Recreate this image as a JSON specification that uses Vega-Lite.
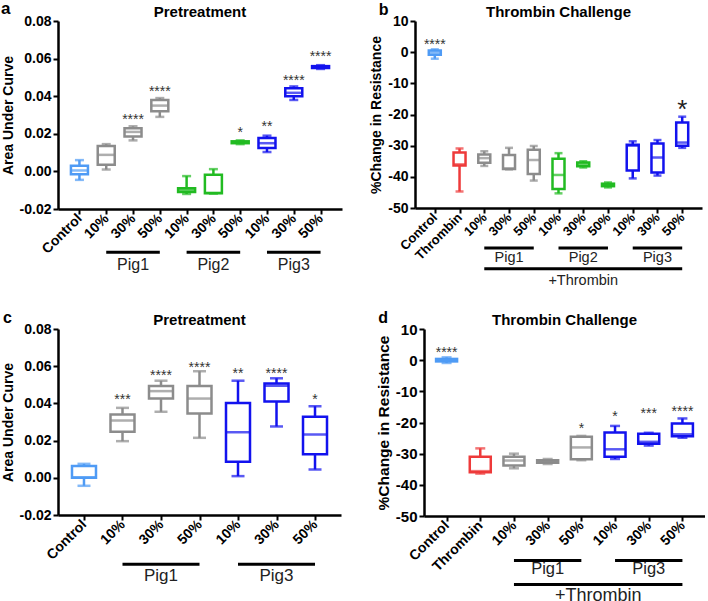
{
 "$schema": "https://vega.github.io/schema/vega-lite/v6.json",
 "background": "white",
 "padding": {"left": 1, "top": 0, "right": 0, "bottom": 0},
 "spacing": 22,
 "config": {
  "font": "Liberation Sans",
  "view": {"stroke": null},
  "axis": {"grid": false, "domainColor": "black", "domainWidth": 2.5, "tickColor": "black", "tickWidth": 2, "tickSize": 5, "labelColor": "black", "labelFontWeight": "bold", "labelFontSize": 14, "labelPadding": 2, "labelOverlap": false, "titleColor": "black", "titleFontWeight": "bold", "titleFontSize": 14, "titlePadding": 4},
  "axisX": {"labelAngle": -45, "labelAlign": "right", "labelBaseline": "middle", "labelFontSize": 14},
  "title": {"fontSize": 15, "fontWeight": "bold", "color": "black"}
 },
 "datasets": {
  "A": [
   {"cat": "Control", "grp": "Control", "min": -0.0045, "q1": -0.0015, "med": 0.0005, "q3": 0.003, "max": 0.006, "star": "", "sy": null},
   {"cat": "Pig1 10%", "grp": "Pig1", "min": 0.001, "q1": 0.0035, "med": 0.0088, "q3": 0.0135, "max": 0.0145, "star": "", "sy": null},
   {"cat": "Pig1 30%", "grp": "Pig1", "min": 0.0165, "q1": 0.0185, "med": 0.021, "q3": 0.023, "max": 0.024, "star": "****", "sy": 0.0293},
   {"cat": "Pig1 50%", "grp": "Pig1", "min": 0.029, "q1": 0.032, "med": 0.035, "q3": 0.038, "max": 0.039, "star": "****", "sy": 0.0444},
   {"cat": "Pig2 10%", "grp": "Pig2", "min": -0.012, "q1": -0.011, "med": -0.0098, "q3": -0.009, "max": -0.0025, "star": "", "sy": null},
   {"cat": "Pig2 30%", "grp": "Pig2", "min": -0.0118, "q1": -0.0116, "med": -0.0114, "q3": -0.0018, "max": 0.0012, "star": "", "sy": null},
   {"cat": "Pig2 50%", "grp": "Pig2", "min": 0.0145, "q1": 0.015, "med": 0.0155, "q3": 0.016, "max": 0.0165, "star": "*", "sy": 0.0226},
   {"cat": "Pig3 10%", "grp": "Pig3", "min": 0.0103, "q1": 0.0125, "med": 0.015, "q3": 0.0178, "max": 0.019, "star": "**", "sy": 0.0258},
   {"cat": "Pig3 30%", "grp": "Pig3", "min": 0.038, "q1": 0.04, "med": 0.0418, "q3": 0.0442, "max": 0.0452, "star": "****", "sy": 0.0501},
   {"cat": "Pig3 50%", "grp": "Pig3", "min": 0.0545, "q1": 0.055, "med": 0.0555, "q3": 0.056, "max": 0.0565, "star": "****", "sy": 0.063}
  ],
  "Ag": [
   {"from": "Pig1 10%", "to": "Pig1 50%", "mid": "Pig1 30%", "y": -0.043, "label": "Pig1", "ly": -0.0498},
   {"from": "Pig2 10%", "to": "Pig2 50%", "mid": "Pig2 30%", "y": -0.043, "label": "Pig2", "ly": -0.0498},
   {"from": "Pig3 10%", "to": "Pig3 50%", "mid": "Pig3 30%", "y": -0.043, "label": "Pig3", "ly": -0.0498}
  ],
  "B": [
   {"cat": "Control", "grp": "Control", "min": -2.1, "q1": -0.8, "med": -0.1, "q3": 0.5, "max": 0.9, "star": "****", "sy": 3.6},
   {"cat": "Thrombin", "grp": "Thrombin", "min": -44.7, "q1": -36.4, "med": -36.0, "q3": -32.2, "max": -30.9, "star": "", "sy": null},
   {"cat": "Pig1 10%", "grp": "Pig1", "min": -36.5, "q1": -35.5, "med": -34.0, "q3": -32.8, "max": -31.8, "star": "", "sy": null},
   {"cat": "Pig1 30%", "grp": "Pig1", "min": -37.6, "q1": -37.5, "med": -37.3, "q3": -33.0, "max": -30.7, "star": "", "sy": null},
   {"cat": "Pig1 50%", "grp": "Pig1", "min": -41.2, "q1": -39.1, "med": -34.6, "q3": -31.3, "max": -30.1, "star": "", "sy": null},
   {"cat": "Pig2 10%", "grp": "Pig2", "min": -45.3, "q1": -43.9, "med": -39.4, "q3": -34.2, "max": -32.4, "star": "", "sy": null},
   {"cat": "Pig2 30%", "grp": "Pig2", "min": -37.0, "q1": -36.6, "med": -36.0, "q3": -35.4, "max": -35.0, "star": "", "sy": null},
   {"cat": "Pig2 50%", "grp": "Pig2", "min": -43.4, "q1": -43.0, "med": -42.6, "q3": -42.2, "max": -41.8, "star": "", "sy": null},
   {"cat": "Pig3 10%", "grp": "Pig3", "min": -40.5, "q1": -38.0, "med": -30.0, "q3": -29.7, "max": -28.6, "star": "", "sy": null},
   {"cat": "Pig3 30%", "grp": "Pig3", "min": -39.6, "q1": -38.6, "med": -33.8, "q3": -29.3, "max": -28.2, "star": "", "sy": null},
   {"cat": "Pig3 50%", "grp": "Pig3", "min": -30.7, "q1": -30.0, "med": -29.0, "q3": -22.6, "max": -20.7, "star": "", "sy": null}
  ],
  "Bbig": [
   {"cat": "Pig3 50%", "star": "*", "sy": -16.5}
  ],
  "Bg": [
   {"from": "Pig1 10%", "to": "Pig1 50%", "mid": "Pig1 30%", "y": -62.8, "label": "Pig1", "ly": -66.1},
   {"from": "Pig2 10%", "to": "Pig2 50%", "mid": "Pig2 30%", "y": -62.8, "label": "Pig2", "ly": -66.1},
   {"from": "Pig3 10%", "to": "Pig3 50%", "mid": "Pig3 30%", "y": -62.8, "label": "Pig3", "ly": -66.1},
   {"from": "Pig1 10%", "to": "Pig3 50%", "mid": "Pig2 30%", "y": -69.5, "label": "+Thrombin", "ly": -73.3}
  ],
  "C": [
   {"cat": "Control", "grp": "Control", "min": -0.0043, "q1": 0.0, "med": 0.0003, "q3": 0.0063, "max": 0.0075, "star": "", "sy": null},
   {"cat": "Pig1 10%", "grp": "Pig1", "min": 0.0197, "q1": 0.0247, "med": 0.0308, "q3": 0.034, "max": 0.0376, "star": "***", "sy": 0.0439},
   {"cat": "Pig1 30%", "grp": "Pig1", "min": 0.0355, "q1": 0.0426, "med": 0.0466, "q3": 0.0493, "max": 0.0522, "star": "****", "sy": 0.057},
   {"cat": "Pig1 50%", "grp": "Pig1", "min": 0.0215, "q1": 0.0346, "med": 0.0426, "q3": 0.0493, "max": 0.0573, "star": "****", "sy": 0.0612},
   {"cat": "Pig3 10%", "grp": "Pig3", "min": 0.0009, "q1": 0.0086, "med": 0.0245, "q3": 0.0402, "max": 0.0522, "star": "**", "sy": 0.0582},
   {"cat": "Pig3 30%", "grp": "Pig3", "min": 0.0276, "q1": 0.041, "med": 0.0495, "q3": 0.0507, "max": 0.0535, "star": "****", "sy": 0.0582},
   {"cat": "Pig3 50%", "grp": "Pig3", "min": 0.0045, "q1": 0.0126, "med": 0.0233, "q3": 0.0328, "max": 0.0385, "star": "*", "sy": 0.0439}
  ],
  "Cg": [
   {"from": "Pig1 10%", "to": "Pig1 50%", "mid": "Pig1 30%", "y": -0.0465, "label": "Pig1", "ly": -0.0527},
   {"from": "Pig3 10%", "to": "Pig3 50%", "mid": "Pig3 30%", "y": -0.0465, "label": "Pig3", "ly": -0.0527}
  ],
  "D": [
   {"cat": "Control", "grp": "Control", "min": -0.9, "q1": -0.4, "med": 0.0, "q3": 0.4, "max": 0.9, "star": "****", "sy": 3.6},
   {"cat": "Thrombin", "grp": "Thrombin", "min": -36.4, "q1": -36.0, "med": -35.6, "q3": -31.0, "max": -28.3, "star": "", "sy": null},
   {"cat": "Pig1 10%", "grp": "Pig1", "min": -34.7, "q1": -33.8, "med": -32.2, "q3": -31.0, "max": -30.0, "star": "", "sy": null},
   {"cat": "Pig1 30%", "grp": "Pig1", "min": -33.3, "q1": -32.9, "med": -32.5, "q3": -32.1, "max": -31.7, "star": "", "sy": null},
   {"cat": "Pig1 50%", "grp": "Pig1", "min": -32.1, "q1": -31.8, "med": -28.0, "q3": -24.6, "max": -24.3, "star": "*", "sy": -20.7},
   {"cat": "Pig3 10%", "grp": "Pig3", "min": -31.7, "q1": -31.0, "med": -28.6, "q3": -23.2, "max": -21.1, "star": "*", "sy": -17.1},
   {"cat": "Pig3 30%", "grp": "Pig3", "min": -27.4, "q1": -26.8, "med": -26.2, "q3": -23.6, "max": -23.3, "star": "***", "sy": -15.9},
   {"cat": "Pig3 50%", "grp": "Pig3", "min": -24.9, "q1": -24.4, "med": -23.8, "q3": -20.3, "max": -18.7, "star": "****", "sy": -15.4}
  ],
  "Dg": [
   {"from": "Pig1 10%", "to": "Pig1 50%", "mid": "Pig1 30%", "y": -64.25, "label": "Pig1", "ly": -67.1},
   {"from": "Pig3 10%", "to": "Pig3 50%", "mid": "Pig3 30%", "y": -64.25, "label": "Pig3", "ly": -67.1}
  ],
  "Dt": [
   {"from": "Pig1 10%", "to": "Pig3 50%", "mid": "Pig1 50%", "y": -72, "label": "+Thrombin", "ly": -75.7}
  ]
 },
 "vconcat": [
  {
   "spacing": 27,
   "hconcat": [
    {
     "title": {"text": "a", "anchor": "start", "fontSize": 17, "offset": -13},
     "vconcat": [
      {
       "width": 284, "height": 188,
       "title": {"text": "Pretreatment", "offset": -6},
       "data": {"name": "A"},
       "layer": [
        {"mark": {"type": "rule", "strokeWidth": 2.5}, "encoding": {
          "x": {"field": "cat", "type": "nominal", "title": null, "scale": {"type": "point", "padding": 0.8, "domain": ["Control", "Pig1 10%", "Pig1 30%", "Pig1 50%", "Pig2 10%", "Pig2 30%", "Pig2 50%", "Pig3 10%", "Pig3 30%", "Pig3 50%"]}, "axis": {"labelExpr": "indexof(datum.value,'%')>0 ? slice(datum.value,-3) : datum.value"}},
          "y": {"field": "min", "type": "quantitative", "title": "Area Under Curve", "scale": {"domain": [-0.02, 0.08], "nice": false}, "axis": {"values": [-0.02, 0, 0.02, 0.04, 0.06, 0.08], "tickCount": 12, "format": ".2f", "labelOverlap": false, "labelExpr": "replace(datum.label,'\u2212','-')"}},
          "y2": {"field": "max"},
          "color": {"field": "grp", "type": "nominal", "scale": {"domain": ["Control", "Thrombin", "Pig1", "Pig2", "Pig3"], "range": ["#4f9bf5", "#ee3a3a", "#8c8c8c", "#22bb22", "#1212ee"]}, "legend": null}}},
        {"mark": {"type": "bar", "size": 17, "fill": "white", "strokeWidth": 2.5}, "encoding": {
          "x": {"field": "cat", "type": "nominal", "title": null},
          "y": {"field": "q1", "type": "quantitative", "title": "Area Under Curve"},
          "y2": {"field": "q3"},
          "stroke": {"field": "grp", "type": "nominal", "scale": {"domain": ["Control", "Thrombin", "Pig1", "Pig2", "Pig3"], "range": ["#4f9bf5", "#ee3a3a", "#8c8c8c", "#22bb22", "#1212ee"]}, "legend": null}}},
        {"mark": {"type": "tick", "size": 17, "thickness": 2.5}, "encoding": {
          "x": {"field": "cat", "type": "nominal", "title": null},
          "y": {"field": "med", "type": "quantitative", "title": "Area Under Curve"},
          "color": {"field": "grp", "type": "nominal", "legend": null}}},
        {"mark": {"type": "tick", "size": 9, "thickness": 2.5}, "encoding": {
          "x": {"field": "cat", "type": "nominal", "title": null},
          "y": {"field": "min", "type": "quantitative", "title": "Area Under Curve"},
          "color": {"field": "grp", "type": "nominal", "legend": null}}},
        {"mark": {"type": "tick", "size": 9, "thickness": 2.5}, "encoding": {
          "x": {"field": "cat", "type": "nominal", "title": null},
          "y": {"field": "max", "type": "quantitative", "title": "Area Under Curve"},
          "color": {"field": "grp", "type": "nominal", "legend": null}}},
        {"transform": [{"filter": "datum.star != ''"}], "mark": {"type": "text", "fontSize": 14, "color": "#333", "baseline": "middle", "dy": 4}, "encoding": {
          "x": {"field": "cat", "type": "nominal", "title": null},
          "y": {"field": "sy", "type": "quantitative", "title": "Area Under Curve"},
          "text": {"field": "star"}}},
        {"data": {"name": "Ag"}, "mark": {"type": "rule", "strokeWidth": 3, "color": "black"}, "encoding": {
          "x": {"field": "from", "type": "nominal", "title": null},
          "x2": {"field": "to"},
          "y": {"field": "y", "type": "quantitative", "title": "Area Under Curve"}}},
        {"data": {"name": "Ag"}, "mark": {"type": "text", "fontSize": 16, "color": "#222", "baseline": "middle"}, "encoding": {
          "x": {"field": "mid", "type": "nominal", "title": null},
          "y": {"field": "ly", "type": "quantitative", "title": "Area Under Curve"},
          "text": {"field": "label"}}}
       ]
      }
     ]
    },
    {
     "title": {"text": "b", "anchor": "start", "fontSize": 16, "offset": -13, "dx": 9},
     "vconcat": [
      {
       "width": 287, "height": 187,
       "title": {"text": "Thrombin Challenge", "offset": -6},
       "data": {"name": "B"},
       "layer": [
        {"mark": {"type": "rule", "strokeWidth": 2.5}, "encoding": {
          "x": {"field": "cat", "type": "nominal", "title": null, "scale": {"type": "point", "padding": 0.8, "domain": ["Control", "Thrombin", "Pig1 10%", "Pig1 30%", "Pig1 50%", "Pig2 10%", "Pig2 30%", "Pig2 50%", "Pig3 10%", "Pig3 30%", "Pig3 50%"]}, "axis": {"labelExpr": "indexof(datum.value,'%')>0 ? slice(datum.value,-3) : datum.value", "labelFontSize": 13}},
          "y": {"field": "min", "type": "quantitative", "title": "%Change in Resistance", "scale": {"domain": [-50, 10], "nice": false}, "axis": {"values": [-50, -40, -30, -20, -10, 0, 10], "tickCount": 12, "labelOverlap": false, "labelExpr": "replace(datum.label,'\u2212','-')"}},
          "y2": {"field": "max"},
          "color": {"field": "grp", "type": "nominal", "legend": null}}},
        {"mark": {"type": "bar", "size": 12, "fill": "white", "strokeWidth": 2.5}, "encoding": {
          "x": {"field": "cat", "type": "nominal", "title": null},
          "y": {"field": "q1", "type": "quantitative", "title": "%Change in Resistance"},
          "y2": {"field": "q3"},
          "stroke": {"field": "grp", "type": "nominal", "legend": null}}},
        {"mark": {"type": "tick", "size": 12, "thickness": 2.5}, "encoding": {
          "x": {"field": "cat", "type": "nominal", "title": null},
          "y": {"field": "med", "type": "quantitative", "title": "%Change in Resistance"},
          "color": {"field": "grp", "type": "nominal", "legend": null}}},
        {"mark": {"type": "tick", "size": 8, "thickness": 2.5}, "encoding": {
          "x": {"field": "cat", "type": "nominal", "title": null},
          "y": {"field": "min", "type": "quantitative", "title": "%Change in Resistance"},
          "color": {"field": "grp", "type": "nominal", "legend": null}}},
        {"mark": {"type": "tick", "size": 8, "thickness": 2.5}, "encoding": {
          "x": {"field": "cat", "type": "nominal", "title": null},
          "y": {"field": "max", "type": "quantitative", "title": "%Change in Resistance"},
          "color": {"field": "grp", "type": "nominal", "legend": null}}},
        {"transform": [{"filter": "datum.star != ''"}], "mark": {"type": "text", "fontSize": 14, "color": "#333", "baseline": "middle", "dy": 4}, "encoding": {
          "x": {"field": "cat", "type": "nominal", "title": null},
          "y": {"field": "sy", "type": "quantitative", "title": "%Change in Resistance"},
          "text": {"field": "star"}}},
        {"data": {"name": "Bbig"}, "mark": {"type": "text", "fontSize": 26, "color": "#222", "baseline": "middle", "dy": 6}, "encoding": {
          "x": {"field": "cat", "type": "nominal", "title": null},
          "y": {"field": "sy", "type": "quantitative", "title": "%Change in Resistance"},
          "text": {"field": "star"}}},
        {"data": {"name": "Bg"}, "mark": {"type": "rule", "strokeWidth": 3, "color": "black"}, "encoding": {
          "x": {"field": "from", "type": "nominal", "title": null},
          "x2": {"field": "to"},
          "y": {"field": "y", "type": "quantitative", "title": "%Change in Resistance"}}},
        {"data": {"name": "Bg"}, "mark": {"type": "text", "fontSize": 14.5, "color": "#222", "baseline": "middle"}, "encoding": {
          "x": {"field": "mid", "type": "nominal", "title": null},
          "y": {"field": "ly", "type": "quantitative", "title": "%Change in Resistance"},
          "text": {"field": "label"}}}
       ]
      }
     ]
    }
   ]
  },
  {
   "spacing": 35,
   "hconcat": [
    {
     "title": {"text": "c", "anchor": "start", "fontSize": 16, "offset": -13, "dx": 2},
     "vconcat": [
      {
       "width": 283, "height": 186,
       "title": {"text": "Pretreatment", "offset": -6},
       "data": {"name": "C"},
       "layer": [
        {"mark": {"type": "rule", "strokeWidth": 2.5}, "encoding": {
          "x": {"field": "cat", "type": "nominal", "title": null, "scale": {"type": "point", "padding": 0.675, "domain": ["Control", "Pig1 10%", "Pig1 30%", "Pig1 50%", "Pig3 10%", "Pig3 30%", "Pig3 50%"]}, "axis": {"labelExpr": "indexof(datum.value,'%')>0 ? slice(datum.value,-3) : datum.value"}},
          "y": {"field": "min", "type": "quantitative", "title": "Area Under Curve", "scale": {"domain": [-0.02, 0.08], "nice": false}, "axis": {"values": [-0.02, 0, 0.02, 0.04, 0.06, 0.08], "tickCount": 12, "format": ".2f", "labelOverlap": false, "labelExpr": "replace(datum.label,'\u2212','-')"}},
          "y2": {"field": "max"},
          "color": {"field": "grp", "type": "nominal", "legend": null}}},
        {"mark": {"type": "bar", "size": 24, "fill": "white", "strokeWidth": 2.5}, "encoding": {
          "x": {"field": "cat", "type": "nominal", "title": null},
          "y": {"field": "q1", "type": "quantitative", "title": "Area Under Curve"},
          "y2": {"field": "q3"},
          "stroke": {"field": "grp", "type": "nominal", "legend": null}}},
        {"mark": {"type": "tick", "size": 24, "thickness": 2.5}, "encoding": {
          "x": {"field": "cat", "type": "nominal", "title": null},
          "y": {"field": "med", "type": "quantitative", "title": "Area Under Curve"},
          "color": {"field": "grp", "type": "nominal", "legend": null}}},
        {"mark": {"type": "tick", "size": 13, "thickness": 2.5}, "encoding": {
          "x": {"field": "cat", "type": "nominal", "title": null},
          "y": {"field": "min", "type": "quantitative", "title": "Area Under Curve"},
          "color": {"field": "grp", "type": "nominal", "legend": null}}},
        {"mark": {"type": "tick", "size": 13, "thickness": 2.5}, "encoding": {
          "x": {"field": "cat", "type": "nominal", "title": null},
          "y": {"field": "max", "type": "quantitative", "title": "Area Under Curve"},
          "color": {"field": "grp", "type": "nominal", "legend": null}}},
        {"transform": [{"filter": "datum.star != ''"}], "mark": {"type": "text", "fontSize": 14, "color": "#333", "baseline": "middle", "dy": 4}, "encoding": {
          "x": {"field": "cat", "type": "nominal", "title": null},
          "y": {"field": "sy", "type": "quantitative", "title": "Area Under Curve"},
          "text": {"field": "star"}}},
        {"data": {"name": "Cg"}, "mark": {"type": "rule", "strokeWidth": 3, "color": "black"}, "encoding": {
          "x": {"field": "from", "type": "nominal", "title": null},
          "x2": {"field": "to"},
          "y": {"field": "y", "type": "quantitative", "title": "Area Under Curve"}}},
        {"data": {"name": "Cg"}, "mark": {"type": "text", "fontSize": 17, "color": "#222", "baseline": "middle"}, "encoding": {
          "x": {"field": "mid", "type": "nominal", "title": null},
          "y": {"field": "ly", "type": "quantitative", "title": "Area Under Curve"},
          "text": {"field": "label"}}}
       ]
      }
     ]
    },
    {
     "title": {"text": "d", "anchor": "start", "fontSize": 16, "offset": -13, "dx": 2},
     "vconcat": [
      {
       "width": 281, "height": 187,
       "title": {"text": "Thrombin Challenge", "offset": -6},
       "data": {"name": "D"},
       "layer": [
        {"mark": {"type": "rule", "strokeWidth": 2.5}, "encoding": {
          "x": {"field": "cat", "type": "nominal", "title": null, "scale": {"type": "point", "padding": 0.67, "domain": ["Control", "Thrombin", "Pig1 10%", "Pig1 30%", "Pig1 50%", "Pig3 10%", "Pig3 30%", "Pig3 50%"]}, "axis": {"labelExpr": "indexof(datum.value,'%')>0 ? slice(datum.value,-3) : datum.value"}},
          "y": {"field": "min", "type": "quantitative", "title": "%Change in Resistance", "scale": {"domain": [-50, 10], "nice": false}, "axis": {"values": [-50, -40, -30, -20, -10, 0, 10], "tickCount": 12, "labelOverlap": false, "labelFontSize": 15, "titleFontSize": 15.5, "labelExpr": "replace(datum.label,'\u2212','-')"}},
          "y2": {"field": "max"},
          "color": {"field": "grp", "type": "nominal", "legend": null}}},
        {"mark": {"type": "bar", "size": 21, "fill": "white", "strokeWidth": 2.5}, "encoding": {
          "x": {"field": "cat", "type": "nominal", "title": null},
          "y": {"field": "q1", "type": "quantitative", "title": "%Change in Resistance"},
          "y2": {"field": "q3"},
          "stroke": {"field": "grp", "type": "nominal", "legend": null}}},
        {"mark": {"type": "tick", "size": 21, "thickness": 2.5}, "encoding": {
          "x": {"field": "cat", "type": "nominal", "title": null},
          "y": {"field": "med", "type": "quantitative", "title": "%Change in Resistance"},
          "color": {"field": "grp", "type": "nominal", "legend": null}}},
        {"mark": {"type": "tick", "size": 10, "thickness": 2.5}, "encoding": {
          "x": {"field": "cat", "type": "nominal", "title": null},
          "y": {"field": "min", "type": "quantitative", "title": "%Change in Resistance"},
          "color": {"field": "grp", "type": "nominal", "legend": null}}},
        {"mark": {"type": "tick", "size": 10, "thickness": 2.5}, "encoding": {
          "x": {"field": "cat", "type": "nominal", "title": null},
          "y": {"field": "max", "type": "quantitative", "title": "%Change in Resistance"},
          "color": {"field": "grp", "type": "nominal", "legend": null}}},
        {"transform": [{"filter": "datum.star != ''"}], "mark": {"type": "text", "fontSize": 14, "color": "#333", "baseline": "middle", "dy": 4}, "encoding": {
          "x": {"field": "cat", "type": "nominal", "title": null},
          "y": {"field": "sy", "type": "quantitative", "title": "%Change in Resistance"},
          "text": {"field": "star"}}},
        {"data": {"name": "Dg"}, "mark": {"type": "rule", "strokeWidth": 3, "color": "black"}, "encoding": {
          "x": {"field": "from", "type": "nominal", "title": null},
          "x2": {"field": "to"},
          "y": {"field": "y", "type": "quantitative", "title": "%Change in Resistance"}}},
        {"data": {"name": "Dg"}, "mark": {"type": "text", "fontSize": 16.5, "color": "#222", "baseline": "middle"}, "encoding": {
          "x": {"field": "mid", "type": "nominal", "title": null},
          "y": {"field": "ly", "type": "quantitative", "title": "%Change in Resistance"},
          "text": {"field": "label"}}},
        {"data": {"name": "Dt"}, "mark": {"type": "rule", "strokeWidth": 3, "color": "black"}, "encoding": {
          "x": {"field": "from", "type": "nominal", "title": null},
          "x2": {"field": "to"},
          "y": {"field": "y", "type": "quantitative", "title": "%Change in Resistance"}}},
        {"data": {"name": "Dt"}, "mark": {"type": "text", "fontSize": 18, "color": "#222", "baseline": "middle", "dx": 17}, "encoding": {
          "x": {"field": "mid", "type": "nominal", "title": null},
          "y": {"field": "ly", "type": "quantitative", "title": "%Change in Resistance"},
          "text": {"field": "label"}}}
       ]
      }
     ]
    }
   ]
  }
 ]
}
